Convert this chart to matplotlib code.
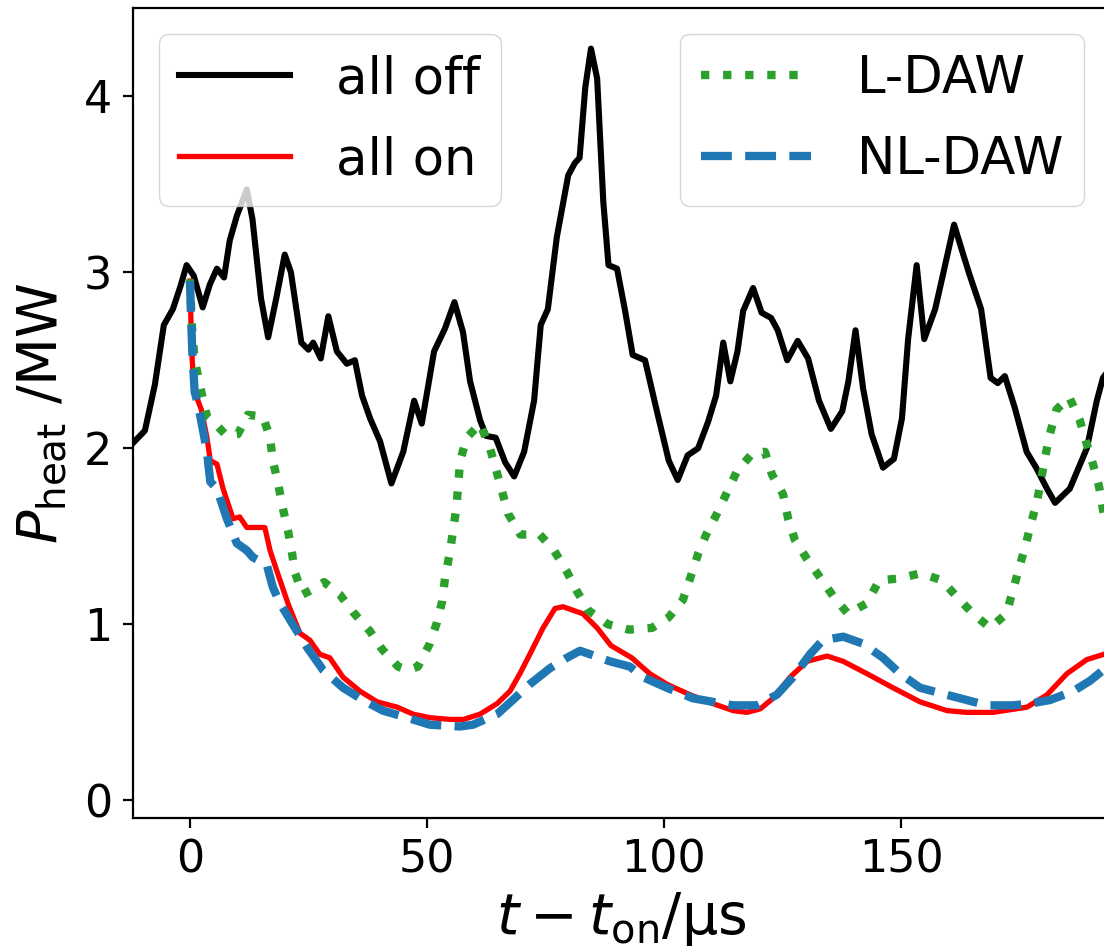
import numpy as np
import matplotlib
matplotlib.use("Agg")
import matplotlib.pyplot as plt

# heating power vs. time after switch-on, four configurations
t_off = [-12, -9.5, -7.4, -5.5, -3.6, -2.0, -0.7, 0.8, 2.7, 4.2, 5.7, 7.2, 8.4, 9.9,
         12.0, 13.2, 15.0, 16.5, 18.2, 20.0, 21.3, 23.5, 25.0, 26.0, 27.6, 29.2,
         31.0, 33.1, 34.8, 36.3, 38.0, 40.1, 42.5, 45.0, 47.3, 48.9, 51.5, 53.8,
         55.8, 57.6, 59.1, 61.2, 62.5, 64.5, 66.5, 68.4, 70.5, 72.6, 74.0, 75.5,
         77.4, 79.8, 81.2, 82.2, 83.4, 84.6, 85.9, 87.2, 88.3, 90.1, 91.8, 93.4,
         96.0, 98.6, 101.0, 102.9, 105.0, 107.2, 109.3, 111.0, 112.5, 114.0, 115.5,
         116.7, 118.8, 120.6, 122.6, 124.0, 126.0, 128.2, 130.4, 132.7, 135.2,
         137.6, 138.9, 140.4, 142.0, 143.8, 146.2, 148.5, 150.2, 151.5, 153.3,
         154.9, 157.2, 158.8, 161.2, 162.9, 164.4, 166.9, 168.9, 170.4, 171.9,
         174.0, 176.5, 178.5, 180.8, 182.5, 185.6, 189.2, 191.3, 192.6, 194.0]
p_off = [2.03, 2.10, 2.36, 2.70, 2.79, 2.92, 3.04, 2.98, 2.80, 2.93, 3.02, 2.97, 3.18, 3.32,
         3.47, 3.30, 2.85, 2.63, 2.85, 3.10, 3.00, 2.60, 2.56, 2.60, 2.51, 2.75,
         2.55, 2.48, 2.50, 2.30, 2.17, 2.04, 1.80, 1.98, 2.27, 2.14, 2.55, 2.68,
         2.83, 2.66, 2.38, 2.16, 2.07, 2.06, 1.92, 1.84, 1.98, 2.27, 2.70, 2.79,
         3.20, 3.55, 3.62, 3.65, 4.05, 4.27, 4.10, 3.40, 3.04, 3.02, 2.78, 2.53,
         2.50, 2.20, 1.93, 1.82, 1.96, 2.00, 2.15, 2.30, 2.60, 2.38, 2.55,
         2.78, 2.91, 2.77, 2.74, 2.67, 2.50, 2.61, 2.51, 2.27, 2.11,
         2.21, 2.38, 2.67, 2.34, 2.08, 1.89, 1.94, 2.17, 2.62, 3.04,
         2.62, 2.79, 2.98, 3.27, 3.12, 2.99, 2.79, 2.40, 2.37, 2.41,
         2.23, 1.98, 1.89, 1.77, 1.69, 1.77, 2.00, 2.27, 2.40, 2.45]

t_on = [0, 0.2, 0.5, 1.0, 2.4, 3.6, 4.3, 5.7, 7.0, 9.1, 10.5, 12.0, 14.1, 15.8, 16.9,
        18.5, 20.8, 23.2, 25.3, 27.4, 29.5, 32.3, 35.9, 39.5, 43.7, 47.1, 50.6,
        54.9, 57.7, 61.2, 64.8, 67.5, 69.6, 71.7, 74.5, 77.0, 78.7, 80.8, 82.9,
        85.9, 88.8, 93.2, 97.0, 100.6, 105.5, 110.3, 114.6, 117.5, 120.3, 123.0,
        126.6, 130.2, 134.4, 137.8, 142.8, 148.3, 154.0, 159.7, 163.9, 169.4,
        176.6, 180.8, 185.0, 189.2, 194.0]
p_on = [2.95, 2.74, 2.49, 2.32, 2.22, 2.06, 1.93, 1.91, 1.77, 1.60, 1.61, 1.55, 1.55, 1.55, 1.42,
        1.29, 1.11, 0.95, 0.91, 0.83, 0.81, 0.70, 0.62, 0.56, 0.53, 0.49, 0.47,
        0.46, 0.46, 0.49, 0.55, 0.62, 0.72, 0.83, 0.98, 1.09, 1.10, 1.08, 1.06,
        0.98, 0.88, 0.81, 0.72, 0.66, 0.60, 0.55, 0.51, 0.50, 0.52, 0.58,
        0.70, 0.79, 0.82, 0.79, 0.72, 0.64, 0.56, 0.51, 0.50, 0.50,
        0.53, 0.60, 0.72, 0.80, 0.84]

t_ldaw = [0, 0.4, 1.0, 2.5, 3.6, 5.3, 7.8, 10.1, 12.2, 15.4, 16.9, 17.5, 18.6, 19.6,
          20.7, 21.5, 22.2, 23.8, 26.0, 28.3, 31.6, 34.4, 38.0, 40.5, 43.9, 46.0,
          48.1, 50.6, 52.1, 53.2, 53.8, 54.9, 55.6, 56.2, 57.0, 58.4, 61.2, 63.3,
          65.4, 67.1, 69.7, 73.8, 76.8, 79.5, 81.6, 84.0, 88.2, 92.6, 97.5, 101.0,
          104.0, 105.5, 107.2, 108.9, 111.2, 113.3, 115.4, 118.6, 121.3, 122.8,
          125.1, 126.2, 127.6, 130.2, 133.1, 135.7, 138.8, 142.8, 145.4, 149.4,
          154.2, 158.6, 162.0, 165.2, 168.8, 172.2, 173.6, 174.9, 176.2, 177.4,
          178.7, 179.6, 180.4, 181.4, 182.8, 185.5, 187.7, 189.0, 190.5, 191.8,
          192.6, 194.0]
p_ldaw = [2.96, 2.70, 2.50, 2.31, 2.18, 2.14, 2.07, 2.08, 2.19, 2.18, 2.06, 1.93, 1.80, 1.66,
          1.53, 1.41, 1.29, 1.17, 1.20, 1.24, 1.17, 1.07, 0.96, 0.86, 0.76, 0.74,
          0.76, 0.89, 1.01, 1.13, 1.26, 1.42, 1.55, 1.66, 1.93, 2.06, 2.14, 2.00,
          1.80, 1.63, 1.51, 1.51, 1.42, 1.30, 1.19, 1.08, 1.00, 0.97, 0.98, 1.04,
          1.14, 1.26, 1.40, 1.51, 1.63, 1.75, 1.87, 1.97, 1.98, 1.85,
          1.74, 1.60, 1.48, 1.37, 1.26, 1.16, 1.06, 1.12, 1.25, 1.26,
          1.29, 1.25, 1.15, 1.06, 0.98, 1.06, 1.19, 1.32, 1.44, 1.57,
          1.70, 1.83, 1.95, 2.08, 2.22, 2.29, 2.16, 2.04, 1.91, 1.78,
          1.65, 1.50]

t_nldaw = [0, 0.2, 0.5, 1.0, 1.7, 2.7, 3.6, 4.3, 5.7, 7.8, 9.9, 12.0, 13.3, 16.2, 17.5,
           19.0, 21.7, 24.7, 28.1, 32.3, 36.5, 40.7, 45.8, 50.6, 57.0, 59.7, 64.8,
           68.1, 71.7, 75.9, 79.5, 82.3, 84.4, 88.6, 92.8, 95.6, 100.6, 106.1,
           110.3, 114.6, 119.6, 123.8, 127.2, 130.8, 133.5, 137.8, 142.0, 146.2,
           149.8, 154.0, 158.2, 163.9, 168.1, 173.6, 177.2, 181.4, 186.3, 189.9, 194.0]
p_nldaw = [2.95, 2.78, 2.55, 2.32, 2.25, 2.11, 1.98, 1.81, 1.77, 1.60, 1.46, 1.42, 1.38, 1.34, 1.21,
           1.12, 1.00, 0.87, 0.74, 0.64, 0.57, 0.51, 0.47, 0.43, 0.42, 0.43, 0.49,
           0.57, 0.66, 0.75, 0.81, 0.85, 0.83, 0.79, 0.76, 0.70, 0.64, 0.58,
           0.56, 0.54, 0.54, 0.60, 0.70, 0.83, 0.91, 0.93, 0.89, 0.81,
           0.72, 0.64, 0.61, 0.57, 0.54, 0.54, 0.55, 0.57, 0.62, 0.68, 0.77]

fig = plt.figure(figsize=(11.04, 9.49), dpi=100)
ax = fig.add_axes([0.1205, 0.138, 0.885, 0.8535])

l1, = ax.plot(t_off, p_off, color="black", lw=4.4, label="all off")
l2, = ax.plot(t_on, p_on, color="red", lw=3.8, label="all on")
l3, = ax.plot(t_ldaw, p_ldaw, color="tab:green", lw=6, ls=":", label="L-DAW")
l4, = ax.plot(t_nldaw, p_nldaw, color="tab:blue", lw=6, ls="--", label="NL-DAW")

ax.set_xlim(-12, 194.1)
ax.set_ylim(-0.1, 4.5)
ax.set_xticks([0, 50, 100, 150])
ax.set_yticks([0, 1, 2, 3, 4])

for s in ax.spines.values():
    s.set_linewidth(1.6)
ax.tick_params(labelsize=32, length=7, width=1.6, pad=8)

ax.set_xlabel(r"$t - t_{\mathrm{on}}$/μs", fontsize=41, labelpad=6)
ax.set_ylabel(r"$P_{\mathrm{heat}}$ /MW", fontsize=40, labelpad=11)

leg_kw = dict(fontsize=37, labelspacing=0.6, handlelength=2.15, handletextpad=0.9)
leg1 = ax.legend(handles=[l1, l2], loc="upper left", **leg_kw)
ax.add_artist(leg1)
ax.legend(handles=[l3, l4], loc="upper right", **leg_kw)

fig.savefig("out.png", dpi=100)
